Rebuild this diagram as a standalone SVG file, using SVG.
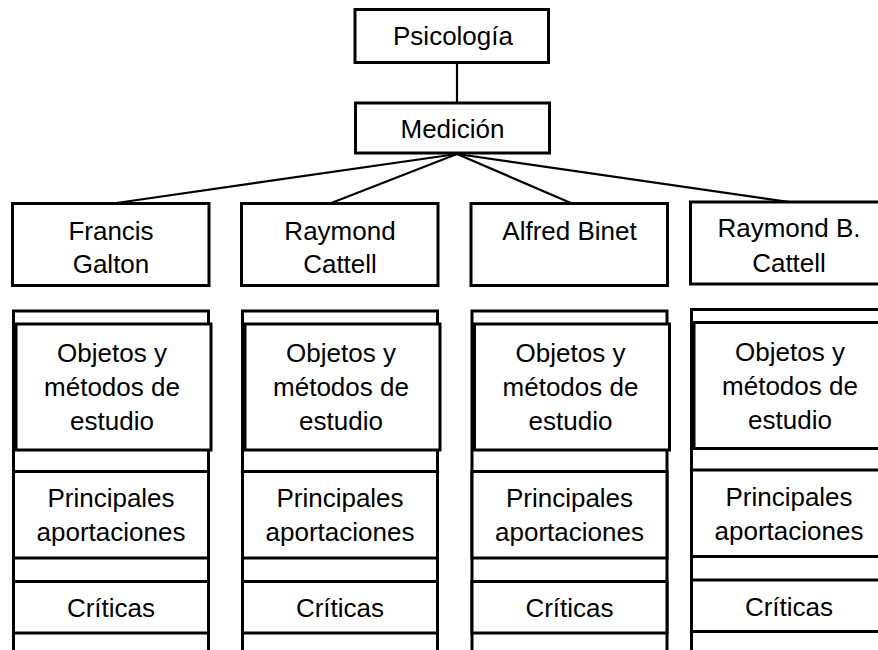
<svg xmlns="http://www.w3.org/2000/svg" width="878" height="650" viewBox="0 0 878 650">
<style>
.box{fill:#fff;stroke:#000;stroke-width:3}
.frame{fill:#fff;stroke:#000;stroke-width:3}
.t{font-family:"Liberation Sans",Arial,sans-serif;font-size:26px;fill:#000;text-anchor:middle}
.con{stroke:#000;stroke-width:2.2;fill:none}
</style>
<rect width="878" height="650" fill="#fff"/>
<g id="connectors">
<line class="con" x1="457" y1="62" x2="457" y2="103"/>
<line class="con" x1="457" y1="154" x2="113" y2="203.5"/>
<line class="con" x1="457" y1="154" x2="330" y2="203.5"/>
<line class="con" x1="457" y1="154" x2="572" y2="203.5"/>
<line class="con" x1="457" y1="154" x2="800" y2="203.5"/>
</g>
<g id="psicologia">
<rect class="box" x="355" y="9.5" width="193.5" height="53"/>
<text class="t" x="453" y="45">Psicología</text>
</g>
<g id="medicion">
<rect class="box" x="355.5" y="103" width="194" height="50"/>
<text class="t" x="452.5" y="138">Medición</text>
</g>

<g id="col1">
<g id="galton"><rect class="box" x="12.5" y="203.5" width="196.5" height="82"/>
<text class="t" x="111" y="240">Francis</text><text class="t" x="111" y="273">Galton</text></g>
<g id="galton-frame"><rect class="frame" x="13.5" y="311" width="195" height="360"/></g>
<g id="galton-objetos"><rect class="box" x="16" y="324" width="195" height="126"/>
<text class="t" x="112" y="362">Objetos y</text><text class="t" x="112" y="396">métodos de</text><text class="t" x="112" y="430">estudio</text></g>
<g id="galton-aportaciones"><rect class="box" x="13.5" y="471.5" width="195" height="86.5"/>
<text class="t" x="111" y="507">Principales</text><text class="t" x="111" y="541">aportaciones</text></g>
<g id="galton-criticas"><rect class="box" x="13.5" y="581.5" width="195" height="51.5"/>
<text class="t" x="111" y="617">Críticas</text></g>
</g>

<g id="col2" transform="translate(229,0)">
<g id="cattell"><rect class="box" x="12.5" y="203.5" width="196.5" height="82"/>
<text class="t" x="111" y="240">Raymond</text><text class="t" x="111" y="273">Cattell</text></g>
<g id="cattell-frame"><rect class="frame" x="13.5" y="311" width="195" height="360"/></g>
<g id="cattell-objetos"><rect class="box" x="16" y="324" width="195" height="126"/>
<text class="t" x="112" y="362">Objetos y</text><text class="t" x="112" y="396">métodos de</text><text class="t" x="112" y="430">estudio</text></g>
<g id="cattell-aportaciones"><rect class="box" x="13.5" y="471.5" width="195" height="86.5"/>
<text class="t" x="111" y="507">Principales</text><text class="t" x="111" y="541">aportaciones</text></g>
<g id="cattell-criticas"><rect class="box" x="13.5" y="581.5" width="195" height="51.5"/>
<text class="t" x="111" y="617">Críticas</text></g>
</g>

<g id="col3" transform="translate(458.5,0)">
<g id="binet"><rect class="box" x="12.5" y="203.5" width="196.5" height="82"/>
<text class="t" x="111" y="240">Alfred Binet</text></g>
<g id="binet-frame"><rect class="frame" x="13.5" y="311" width="195" height="360"/></g>
<g id="binet-objetos"><rect class="box" x="16" y="324" width="195" height="126"/>
<text class="t" x="112" y="362">Objetos y</text><text class="t" x="112" y="396">métodos de</text><text class="t" x="112" y="430">estudio</text></g>
<g id="binet-aportaciones"><rect class="box" x="13.5" y="471.5" width="195" height="86.5"/>
<text class="t" x="111" y="507">Principales</text><text class="t" x="111" y="541">aportaciones</text></g>
<g id="binet-criticas"><rect class="box" x="13.5" y="581.5" width="195" height="51.5"/>
<text class="t" x="111" y="617">Críticas</text></g>
</g>

<g id="col4" transform="translate(678,-1.5)">
<g id="rbcattell"><rect class="box" x="12.5" y="203.5" width="196.5" height="82"/>
<text class="t" x="111" y="238">Raymond B.</text><text class="t" x="111" y="273">Cattell</text></g>
<g id="rbcattell-frame"><rect class="frame" x="13.5" y="311" width="195" height="360"/></g>
<g id="rbcattell-objetos"><rect class="box" x="16" y="324" width="195" height="126"/>
<text class="t" x="112" y="362">Objetos y</text><text class="t" x="112" y="396">métodos de</text><text class="t" x="112" y="430">estudio</text></g>
<g id="rbcattell-aportaciones"><rect class="box" x="13.5" y="471.5" width="195" height="86.5"/>
<text class="t" x="111" y="507">Principales</text><text class="t" x="111" y="541">aportaciones</text></g>
<g id="rbcattell-criticas"><rect class="box" x="13.5" y="581.5" width="195" height="51.5"/>
<text class="t" x="111" y="617">Críticas</text></g>
</g>
</svg>
